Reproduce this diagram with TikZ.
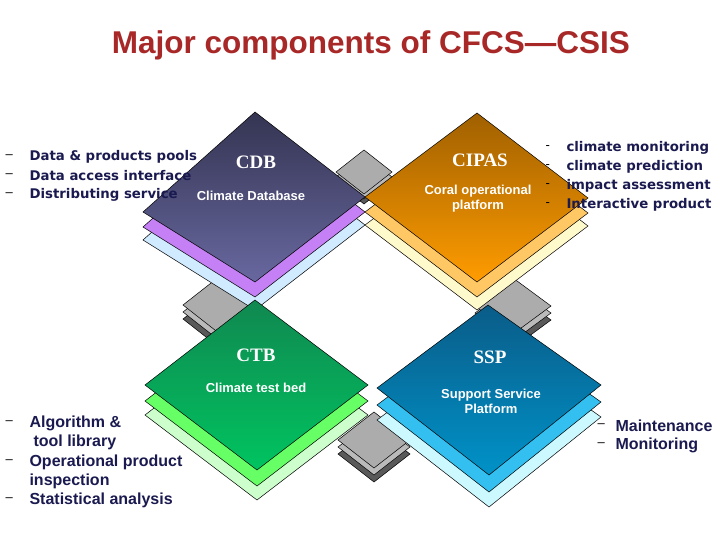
\documentclass[tikz,border=0pt]{standalone}
\usepackage{fontspec}
\setmainfont{Liberation Sans}
\newfontfamily\dvfont{DejaVu Sans}
\newfontfamily\serfont{Liberation Serif}
\begin{document}
\begin{tikzpicture}[x=1pt,y=-1pt,
  edge/.style={draw=black,line width=0.5pt},
  grayA/.style={edge,fill=gray!65},
  grayB/.style={edge,fill=gray!110!black!60},
  grayC/.style={edge,fill=black!65},
  big/.style={white,font=\serfont\bfseries\fontsize{19}{19}\selectfont},
  sub/.style={white,font=\bfseries\fontsize{13}{15}\selectfont,align=center},
  lstA/.style={anchor=west,text=navy,font=\dvfont\bfseries\fontsize{13.3}{14}\selectfont},
  lstB/.style={anchor=west,text=navy,font=\bfseries\fontsize{16}{16}\selectfont},
  dsh/.style={anchor=west,text=black,font=\fontsize{13}{13}\selectfont}]
\definecolor{navy}{HTML}{1A1A50}
\definecolor{titlered}{HTML}{A82828}
\useasboundingbox[fill=white] (0,0) rectangle (720,540);
\node[text=titlered,font=\bfseries\fontsize{31.5}{32}\selectfont] (title) at (371,45) {Major components of CFCS—CSIS};
% gray connectors
\foreach \x/\y/\w/\h/\o in {364/150/28/22/5, 220/276/37/29/7, 513/278/38/28/7, 374/412/36/28/7}{
  \path[grayC] (\x,\y+2*\o) -- (\x+\w,\y+\h+2*\o) -- (\x,\y+2*\h+2*\o) -- (\x-\w,\y+\h+2*\o) -- cycle;
  \path[grayB] (\x,\y+\o) -- (\x+\w,\y+\h+\o) -- (\x,\y+2*\h+\o) -- (\x-\w,\y+\h+\o) -- cycle;
  \path[grayA] (\x,\y) -- (\x+\w,\y+\h) -- (\x,\y+2*\h) -- (\x-\w,\y+\h) -- cycle;
}
% CDB
\path[edge,fill={rgb,255:red,208;green,234;blue,255}] (255,140) -- (365,225) -- (255,310) -- (143,240) -- cycle;
\path[edge,fill={rgb,255:red,196;green,128;blue,244}] (255,127) -- (365,212) -- (255,297) -- (143,227) -- cycle;
\shade[top color={rgb,255:red,52;green,52;blue,82},bottom color={rgb,255:red,104;green,104;blue,160}] (255,112) -- (365,197) -- (255,282) -- (143,212) -- cycle;
\draw[edge] (255,112) -- (365,197) -- (255,282) -- (143,212) -- cycle;
% CIPAS
\path[edge,fill={rgb,255:red,255;green,250;blue,204}] (477,141) -- (588,226) -- (477,310) -- (365,225) -- cycle;
\path[edge,fill={rgb,255:red,255;green,200;blue,100}] (477,128) -- (588,213) -- (477,297) -- (365,212) -- cycle;
\shade[top color={rgb,255:red,160;green,96;blue,0},bottom color={rgb,255:red,255;green,156;blue,0}] (477,113) -- (588,198) -- (477,282) -- (365,197) -- cycle;
\draw[edge] (477,113) -- (588,198) -- (477,282) -- (365,197) -- cycle;
% CTB
\path[edge,fill={rgb,255:red,204;green,255;blue,204}] (255,330) -- (368,415) -- (257,500) -- (145,415) -- cycle;
\path[edge,fill={rgb,255:red,102;green,255;blue,102}] (255,316) -- (368,401) -- (257,486) -- (145,401) -- cycle;
\shade[top color={rgb,255:red,16;green,136;blue,80},bottom color={rgb,255:red,0;green,196;blue,96}] (255,300) -- (368,385) -- (257,470) -- (145,385) -- cycle;
\draw[edge] (255,300) -- (368,385) -- (257,470) -- (145,385) -- cycle;
% SSP
\path[edge,fill={rgb,255:red,204;green,248;blue,255}] (488,337) -- (601,417) -- (489,507) -- (377,420) -- cycle;
\path[edge,fill={rgb,255:red,51;green,192;blue,240}] (488,322) -- (601,402) -- (489,492) -- (377,405) -- cycle;
\shade[top color={rgb,255:red,10;green,92;blue,136},bottom color={rgb,255:red,0;green,146;blue,200}] (488,305) -- (601,385) -- (489,475) -- (377,388) -- cycle;
\draw[edge] (488,305) -- (601,385) -- (489,475) -- (377,388) -- cycle;
% labels
\node[big] (cdb) at (256,162) {CDB};
\node[sub] (cdbs) at (251,196) {Climate Database};
\node[big] (cipas) at (480,160) {CIPAS};
\node[sub] (cipass) at (478,199) {Coral operational\\platform};
\node[big] (ctb) at (256,355) {CTB};
\node[sub] (ctbs) at (256,388) {Climate test bed};
\node[big] (ssp) at (490,357) {SSP};
\node[sub] (ssps) at (491,401) {Support Service\\Platform};
% lists
\foreach \y/\t [count=\i] in {157/Data \& products pools,176/Data access interface,195/Distributing service}{
  \node[dsh] (ld\i) at (2,\y) {–};
  \node[lstA] (lt\i) at (26,\y) {\t};
}
\foreach \y/\t [count=\i] in {148/climate monitoring,167/climate prediction,186/impact assessment,205/Interactive product}{
  \node[dsh] (rd\i) at (542,\y) {-};
  \node[lstA] (rt\i) at (563,\y) {\t};
}
\node[dsh] (bd1) at (2,423) {–};
\node[lstB] (bt1) at (26,423) {Algorithm \&};
\node[lstB] (bt2) at (30,442) {tool library};
\node[dsh] (bd2) at (2,462) {–};
\node[lstB] (bt3) at (26,462) {Operational product};
\node[lstB] (bt4) at (26,481) {inspection};
\node[dsh] (bd3) at (2,500) {–};
\node[lstB] (bt5) at (26,500) {Statistical analysis};
\node[dsh] (md1) at (594,426) {–};
\node[lstB] (mt1) at (612,426) {Maintenance};
\node[dsh] (md2) at (594,445) {–};
\node[lstB] (mt2) at (612,445) {Monitoring};
\end{tikzpicture}
\end{document}
